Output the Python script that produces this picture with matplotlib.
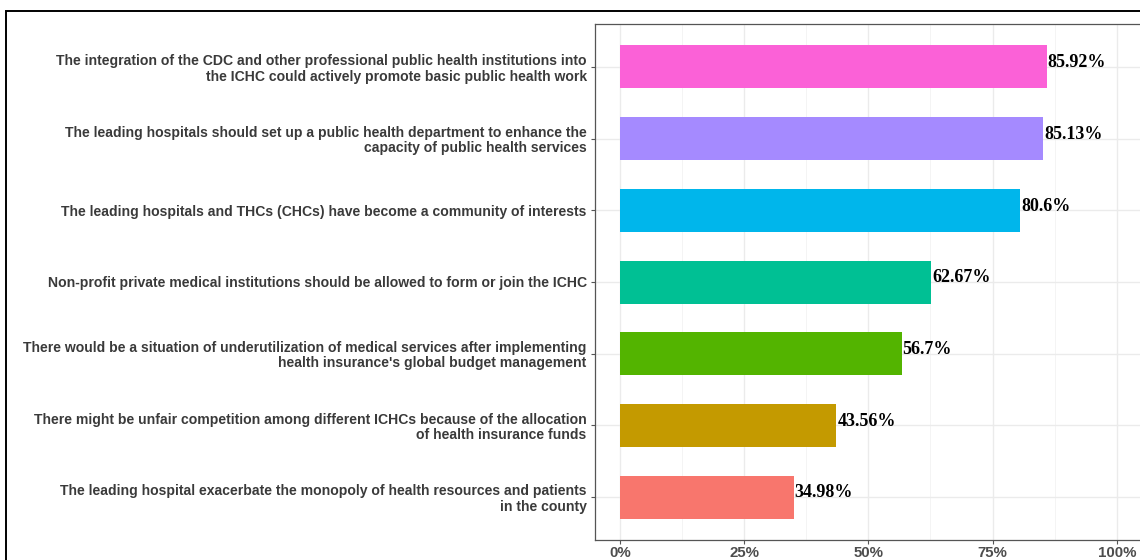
import matplotlib.pyplot as plt
from matplotlib.patches import Rectangle
from matplotlib.ticker import MultipleLocator

# statements from bottom to top
statements = [
    "The leading hospital exacerbate the monopoly of health resources and patients\nin the county",
    "There might be unfair competition among different ICHCs because of the allocation\nof health insurance funds",
    "There would be a situation of underutilization of medical services after implementing\nhealth insurance's global budget management",
    "Non-profit private medical institutions should be allowed to form or join the ICHC",
    "The leading hospitals and THCs (CHCs) have become a community of interests",
    "The leading hospitals should set up a public health department to enhance the\ncapacity of public health services",
    "The integration of the CDC and other professional public health institutions into\nthe ICHC could actively promote basic public health work",
]
percent = [34.98, 43.56, 56.7, 62.67, 80.6, 85.13, 85.92]
labels = ["34.98%", "43.56%", "56.7%", "62.67%", "80.6%", "85.13%", "85.92%"]
colors = ["#F8766D", "#C49A00", "#53B400", "#00C094", "#00B6EB", "#A58AFF", "#FB61D7"]

W, H = 1140, 560
fig = plt.figure(figsize=(W / 100, H / 100), dpi=100)

# outer frame (cut off at right and bottom)
fig.patches.append(Rectangle((6 / W, -0.1), 1.2, 1 - 11 / H + 0.1, transform=fig.transFigure,
                             fill=False, edgecolor="black", linewidth=1.4))

x_lo, x_hi = -5, 105
px_per = 4.97
left, right = 595, 595 + (x_hi - x_lo) * px_per
top, bottom = 24, 540
ax = fig.add_axes([left / W, 1 - bottom / H, (right - left) / W, (bottom - top) / H])

ypos = list(range(len(statements)))
ax.barh(ypos, percent, height=0.6, color=colors, zorder=3)
for y, v, t in zip(ypos, percent, labels):
    ax.text(v + 0.2, y + 0.06, t, ha="left", va="center", fontsize=13,
            fontweight="bold", family="Liberation Serif", color="black", zorder=4)

ax.set_xlim(x_lo, x_hi)
ax.set_ylim(-0.6, len(statements) - 0.4)
ax.xaxis.set_minor_locator(MultipleLocator(12.5))
ax.set_xticks([0, 25, 50, 75, 100])
ax.set_xticklabels(["0%", "25%", "50%", "75%", "100%"])
ax.set_yticks(ypos)
ax.set_yticklabels(statements, linespacing=1.1)
ax.grid(which="major", color="#EBEBEB", linewidth=1.0, zorder=0)
ax.grid(which="minor", axis="x", color="#F2F2F2", linewidth=0.6, zorder=0)
ax.tick_params(axis="both", which="major", length=3, color="#555555", width=0.8)
ax.tick_params(axis="x", which="minor", length=0)
for lab in ax.get_yticklabels():
    lab.set_fontsize(10.1)
    lab.set_fontweight("bold")
    lab.set_color("#3A3A3A")
    lab.set_family("Liberation Sans")
for lab in ax.get_xticklabels():
    lab.set_fontsize(10.8)
    lab.set_fontweight("bold")
    lab.set_color("#4D4D4D")
    lab.set_family("Liberation Sans")
ax.tick_params(axis="y", pad=3)
ax.tick_params(axis="x", pad=1.5)
for s in ax.spines.values():
    s.set_color("#555555")
    s.set_linewidth(0.9)

fig.savefig("out.png", dpi=100)
